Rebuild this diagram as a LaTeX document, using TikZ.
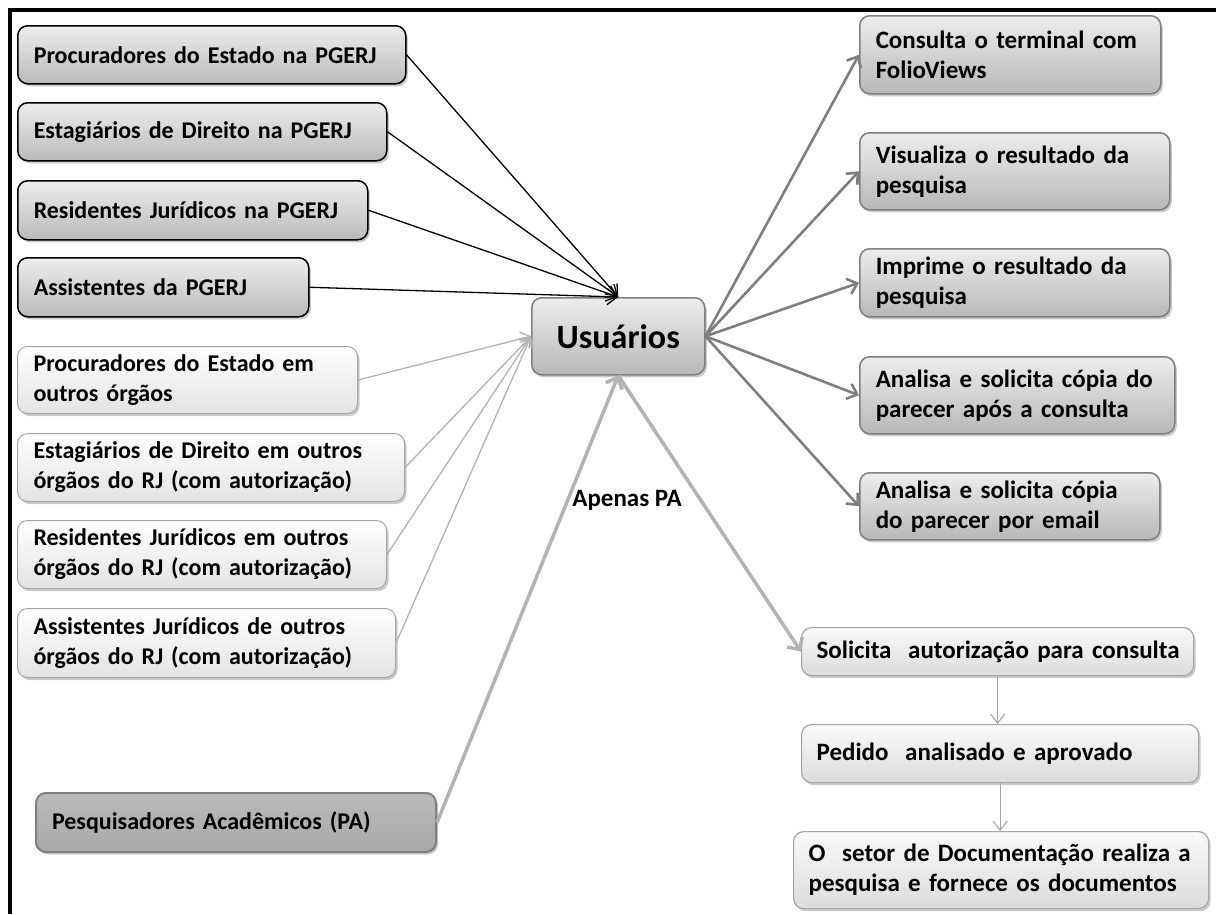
\documentclass[tikz,border=0pt]{standalone}
\usepackage{fontspec}
\setmainfont{Carlito}
\usetikzlibrary{arrows.meta,shadows}
\newcommand\oneline[1]{\mbox{#1}}
\definecolor{midgrey}{HTML}{7F7F7F}
\definecolor{lightgrey}{HTML}{B3B3B3}
\definecolor{paleline}{HTML}{A6A6A6}
\tikzset{
  boxbase/.style={rectangle, rounded corners=10pt, anchor=north west, inner xsep=16pt, inner ysep=2pt,
    align=left, font=\fontsize{25}{30}\selectfont\bfseries,
    drop shadow={shadow xshift=2pt, shadow yshift=-2.5pt, opacity=0.35, fill=black!60}},
  leftfont/.style={font=\fontsize{24}{30}\selectfont\bfseries},
  darkbox/.style={boxbase, leftfont, draw=black, line width=1.5pt, top color=white!93!black, bottom color=white!73!black},
  lightbox/.style={boxbase, leftfont, draw=paleline, line width=1pt, top color=white, bottom color=white!89!black},
  rightbox/.style={boxbase, draw=midgrey, line width=1.5pt, top color=white!93!black, bottom color=white!72!black},
  pabox/.style={boxbase, leftfont, draw=midgrey, line width=2pt, top color=white!73!black, bottom color=white!66!black},
  flowbox/.style={boxbase, inner xsep=15pt, draw=paleline, line width=1.2pt, top color=white!98!black, bottom color=white!86!black},
  centerbox/.style={rectangle, rounded corners=10pt, anchor=north west, draw=midgrey, line width=1.5pt,
    top color=white!93!black, bottom color=white!72!black, font=\fontsize{34}{40}\selectfont\bfseries,
    drop shadow={shadow xshift=2pt, shadow yshift=-2.5pt, opacity=0.35, fill=black!60}},
  blackarrow/.style={draw=black, line width=1.3pt, -{Straight Barb[length=10pt,width=16pt]}},
  palearrow/.style={draw=lightgrey, line width=1.3pt, -{Straight Barb[length=9pt,width=14pt]}},
  greyarrow/.style={draw=midgrey, line width=2.6pt, -{Straight Barb[length=9pt,width=16pt]}},
  thickpale/.style={draw=lightgrey, line width=3.5pt, -{Straight Barb[length=9pt,width=18pt]}},
  flowarrow/.style={draw=paleline, line width=1.1pt, -{Straight Barb[length=9pt,width=14pt]}},
  labeltext/.style={font=\fontsize{25}{30}\selectfont\bfseries}
}
\begin{document}
\begin{tikzpicture}[x=1pt,y=-1pt]
\useasboundingbox (0,0) rectangle (1216,914);
% frame
\draw[line width=3.3pt] (10,914) -- (10,10) -- (1216,10);
% left dark boxes
\node[darkbox, text width=356pt, minimum height=58pt] (l1) at (17,25) {\oneline{Procuradores do Estado na PGERJ}};
\node[darkbox, text width=337pt, minimum height=58pt] (l2) at (17,102) {\oneline{Estagiários de Direito na PGERJ}};
\node[darkbox, text width=318pt, minimum height=59pt] (l3) at (17,180) {\oneline{Residentes Jurídicos na PGERJ}};
\node[darkbox, text width=259pt, minimum height=59pt] (l4) at (17,257) {\oneline{Assistentes da PGERJ}};
% left light boxes
\node[lightbox, text width=308pt, minimum height=67pt] (l5) at (17,346) {\oneline{Procuradores do Estado em}\\\oneline{outros órgãos}};
\node[lightbox, text width=355pt, minimum height=68pt] (l6) at (17,433) {\oneline{Estagiários de Direito em outros}\\\oneline{órgãos do RJ (com autorização)}};
\node[lightbox, text width=337pt, minimum height=68pt] (l7) at (17,520) {\oneline{Residentes Jurídicos em outros}\\\oneline{órgãos do RJ (com autorização)}};
\node[lightbox, text width=346pt, minimum height=69pt] (l8) at (17,608) {\oneline{Assistentes Jurídicos de outros}\\\oneline{órgãos do RJ (com autorização)}};
% PA
\node[pabox, text width=368pt, minimum height=59pt] (pa) at (35,792) {\oneline{Pesquisadores Acadêmicos (PA)}};
% center
\node[centerbox, minimum width=173pt, minimum height=77pt] (usu) at (531,297) {Usuários};
% right boxes
\node[rightbox, text width=269pt, minimum height=78pt] (r1) at (859,15) {\oneline{Consulta o terminal com}\\\oneline{FolioViews}};
\node[rightbox, text width=278pt, minimum height=77pt] (r2) at (859,132) {\oneline{Visualiza o resultado da}\\\oneline{pesquisa}};
\node[rightbox, text width=278pt, minimum height=68pt] (r3) at (859,248) {\oneline{Imprime o resultado da}\\\oneline{pesquisa}};
\node[rightbox, text width=283pt, minimum height=77pt] (r4) at (859,356) {\oneline{Analisa e solicita cópia do}\\\oneline{parecer após a consulta}};
\node[rightbox, text width=268pt, minimum height=67pt] (r5) at (859,472) {\oneline{Analisa e solicita cópia}\\\oneline{do parecer por email}};
% flow boxes
\node[flowbox, text width=362pt, minimum height=48pt] (b1) at (801,627) {\oneline{Solicita\ \ autorização para consulta}};
\node[flowbox, text width=367pt, minimum height=58pt] (b2) at (801,724) {\oneline{Pedido\ \ analisado e aprovado}};
\node[flowbox, text width=385pt, minimum height=77pt] (b3) at (793,831) {\oneline{O\ \ setor de Documentação realiza a}\\\oneline{pesquisa e fornece os documentos}};
% label
\node[labeltext] (apenas) at (627,500) {Apenas PA};
% connectors
\draw[blackarrow] (l1.east) -- (usu.north);
\draw[blackarrow] (l2.east) -- (usu.north);
\draw[blackarrow] (l3.east) -- (usu.north);
\draw[blackarrow] (l4.east) -- (usu.north);
\draw[palearrow] (l5.east) -- (usu.west);
\draw[palearrow] (l6.east) -- (usu.west);
\draw[palearrow] (l7.east) -- (usu.west);
\draw[palearrow] (l8.east) -- (usu.west);
\draw[thickpale] (pa.east) -- (usu.south);
\draw[thickpale] (usu.south) -- (b1.west);
\draw[greyarrow] (usu.east) -- (r1.west);
\draw[greyarrow] (usu.east) -- (r2.west);
\draw[greyarrow] (usu.east) -- (r3.west);
\draw[greyarrow] (usu.east) -- (r4.west);
\draw[greyarrow] (usu.east) -- (r5.west);
\draw[flowarrow] (b1.south) -- (b1.south |- b2.north);
\draw[flowarrow] (b2.south) -- (b2.south |- b3.north);
\end{tikzpicture}
\end{document}
